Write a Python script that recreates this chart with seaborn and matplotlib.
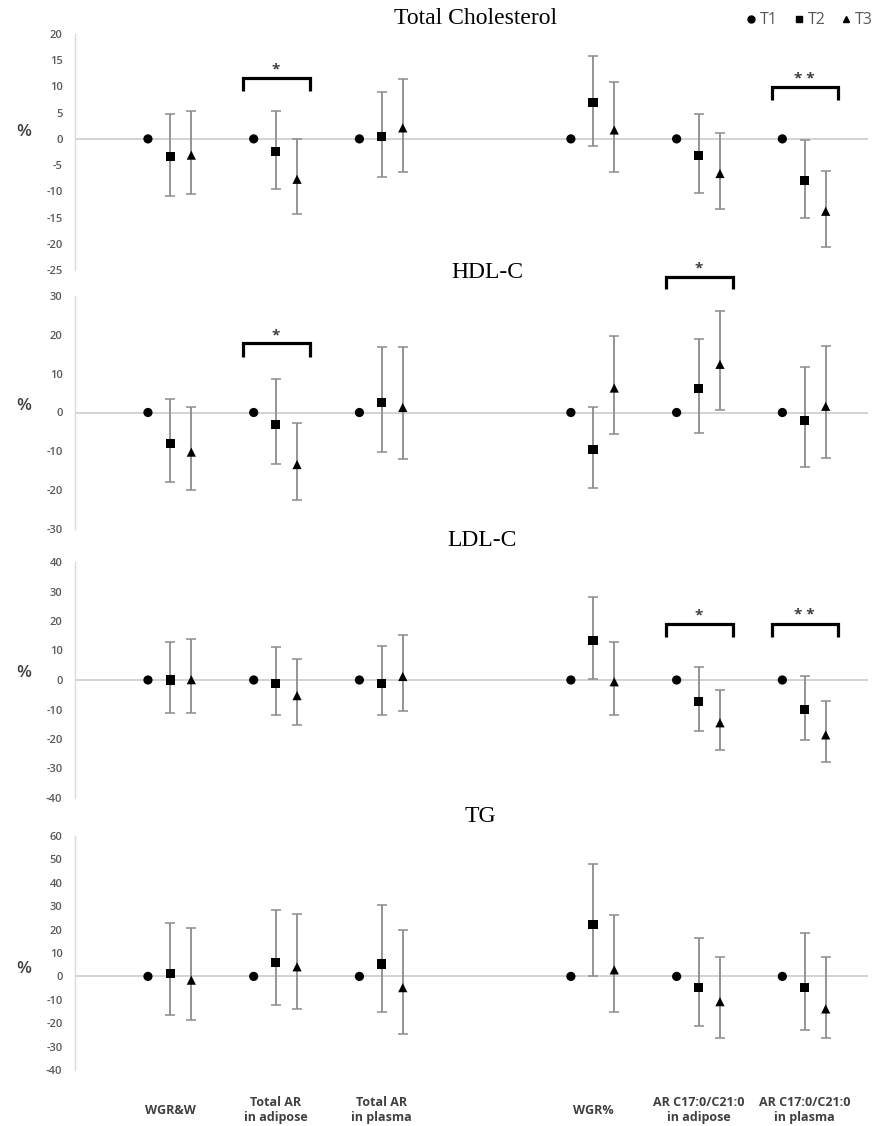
import numpy as np
import pandas as pd
import matplotlib.pyplot as plt
from matplotlib.lines import Line2D
import seaborn as sns

# categories on the x axis (slot 3 is left empty in the original)
categories = ["WGR&W", "Total AR\nin adipose", "Total AR\nin plasma",
              "WGR%", "AR C17:0/C21:0\nin adipose", "AR C17:0/C21:0\nin plasma"]
cat_pos = [0, 1, 2, 4, 5, 6]
groups = ["T1", "T2", "T3"]

# Total Cholesterol (% change vs T1)
tc_t2 = [-3.4, -2.4, 0.4, 7.0, -3.1, -7.9]
tc_t2_lo = [-10.8, -9.5, -7.3, -1.3, -10.3, -15.1]
tc_t2_hi = [4.7, 5.4, 8.9, 15.8, 4.7, -0.25]
tc_t3 = [-3.1, -7.7, 2.1, 1.7, -6.6, -13.8]
tc_t3_lo = [-10.5, -14.3, -6.4, -6.4, -13.3, -20.7]
tc_t3_hi = [5.4, 0.0, 11.5, 10.8, 1.2, -6.1]

# HDL-C
hdl_t2 = [-8.0, -3.0, 2.6, -9.5, 6.2, -2.0]
hdl_t2_lo = [-18.0, -13.3, -10.2, -19.4, -5.3, -14.1]
hdl_t2_hi = [3.5, 8.5, 16.8, 1.5, 19.0, 11.8]
hdl_t3 = [-10.2, -13.4, 1.3, 6.3, 12.4, 1.6]
hdl_t3_lo = [-20.0, -22.6, -12.1, -5.5, 0.6, -11.6]
hdl_t3_hi = [1.5, -2.7, 16.8, 19.8, 26.2, 17.0]

# LDL-C
ldl_t2 = [0.0, -1.1, -1.1, 13.3, -7.4, -9.9]
ldl_t2_lo = [-11.2, -12.0, -12.0, 0.3, -17.4, -20.2]
ldl_t2_hi = [12.8, 11.1, 11.4, 28.0, 4.5, 1.5]
ldl_t3 = [0.1, -5.3, 1.2, -0.6, -14.5, -18.6]
ldl_t3_lo = [-11.2, -15.4, -10.5, -12.0, -23.8, -27.7]
ldl_t3_hi = [13.9, 7.0, 15.2, 12.8, -3.3, -7.2]

# TG
tg_t2 = [1.4, 6.1, 5.3, 22.2, -4.7, -4.7]
tg_t2_lo = [-16.5, -12.4, -15.0, 0.3, -21.2, -22.9]
tg_t2_hi = [22.8, 28.4, 30.6, 47.9, 16.4, 18.6]
tg_t3 = [-1.6, 4.1, -4.8, 2.8, -10.8, -13.9]
tg_t3_lo = [-18.8, -14.1, -24.5, -15.2, -26.2, -26.3]
tg_t3_hi = [20.5, 26.5, 20.0, 26.3, 8.5, 8.1]

# significance brackets: (index into categories, bracket top, bracket foot, label)
tc_sig = [(1, 11.6, 9.2, "*"), (5, 9.8, 7.5, "* *")]
hdl_sig = [(1, 17.8, 14.3, "*"), (4, 34.9, 31.7, "*")]
ldl_sig = [(4, 19.0, 14.7, "*"), (5, 19.0, 14.7, "* *")]
tg_sig = []

sns.set_theme(style="white")
plt.rcParams["font.family"] = ["Open Sans", "DejaVu Sans"]
plt.rcParams["axes.unicode_minus"] = False

offsets = {"T1": -0.21, "T2": 0.0, "T3": 0.2}
markers = {"T1": "o", "T2": "s", "T3": "^"}
W, H = 881, 1126

panels = [
    ("Total Cholesterol", tc_t2, tc_t2_lo, tc_t2_hi, tc_t3, tc_t3_lo, tc_t3_hi,
     tc_sig, (-25, 20), 5, (34, 270), (476, 19)),
    ("HDL-C", hdl_t2, hdl_t2_lo, hdl_t2_hi, hdl_t3, hdl_t3_lo, hdl_t3_hi,
     hdl_sig, (-30, 30), 10, (296, 529), (487, 272)),
    ("LDL-C", ldl_t2, ldl_t2_lo, ldl_t2_hi, ldl_t3, ldl_t3_lo, ldl_t3_hi,
     ldl_sig, (-40, 40), 10, (562, 798), (482, 540)),
    ("TG", tg_t2, tg_t2_lo, tg_t2_hi, tg_t3, tg_t3_lo, tg_t3_hi,
     tg_sig, (-40, 60), 10, (836, 1070), (480, 816)),
]

fig = plt.figure(figsize=(W / 100, H / 100), dpi=100)
grey_err = "#8c8c8c"

for i, (title, t2, t2lo, t2hi, t3, t3lo, t3hi, sig, ylim, step, (ytop, ybot), tpos) in enumerate(panels):
    ax = fig.add_axes([75 / W, 1 - ybot / H, 793 / W, (ybot - ytop) / H])

    rows = []
    for c, p in zip(categories, cat_pos):
        rows.append(dict(cat=c, group="T1", x=p + offsets["T1"], y=0.0, lo=0.0, hi=0.0))
    for g, vals, lo, hi in [("T2", t2, t2lo, t2hi), ("T3", t3, t3lo, t3hi)]:
        for c, p, v, l, h in zip(categories, cat_pos, vals, lo, hi):
            rows.append(dict(cat=c, group=g, x=p + offsets[g], y=v, lo=l, hi=h))
    df = pd.DataFrame(rows)

    err = df[df.group != "T1"]
    ax.errorbar(err.x, err.y, yerr=[err.y - err.lo, err.hi - err.y], fmt="none",
                ecolor=grey_err, elinewidth=1.3, capsize=3.8, capthick=1.1, zorder=2)
    sns.scatterplot(data=df, x="x", y="y", style="group", markers=markers,
                    color="black", s=44, edgecolor="none", legend=False, ax=ax, zorder=3)

    ax.axhline(0, color="#c8c8c8", lw=1.1, zorder=1)

    for ci, top, foot, lab in sig:
        xc = cat_pos[ci]
        x0, x1 = xc - 0.31, xc + 0.32
        ax.plot([x0, x0, x1, x1], [foot, top, top, foot], color="black", lw=2.3,
                solid_joinstyle="miter", solid_capstyle="butt", clip_on=False, zorder=4)
        span = ylim[1] - ylim[0]
        ax.text(xc, top + span * 0.036, lab, ha="center", va="center",
                fontsize=11, fontweight="bold", color="#404040", clip_on=False)

    ax.set_xlim(-0.9, 6.6)
    ax.set_ylim(*ylim)
    ax.set_yticks(np.arange(ylim[0], ylim[1] + 1, step))
    ax.tick_params(axis="y", length=0, pad=9, labelsize=8, labelcolor="#595959")
    for lbl in ax.get_yticklabels():
        lbl.set_fontweight("semibold")
    ax.set_xlabel("")
    ax.set_ylabel("")
    for s in ["top", "right", "bottom"]:
        ax.spines[s].set_visible(False)
    ax.spines["left"].set_color("#d9d9d9")
    ax.spines["left"].set_linewidth(1.0)

    if i == len(panels) - 1:
        ax.set_xticks(cat_pos)
        ax.set_xticklabels(categories, fontweight="bold", fontsize=9, color="#404040",
                           va="center", linespacing=1.2)
        ax.tick_params(axis="x", length=0, pad=29)
    else:
        ax.set_xticks([])

    ax.annotate("%", xy=(-0.064, 0), xycoords=ax.get_yaxis_transform(),
                xytext=(0, 5), textcoords="offset points", ha="center", va="center",
                fontsize=12.5, fontweight="semibold", color="#404040")

    fig.text(tpos[0] / W, 1 - tpos[1] / H, title, family=["Liberation Serif"],
             fontsize=17, ha="center", va="center", color="black")

handles = [Line2D([], [], ls="none", marker=markers[g], color="black", markersize=5)
           for g in groups]
fig.legend(handles, groups, loc="upper right", bbox_to_anchor=(884 / W, 1 - 1 / H),
           ncol=3, frameon=False, handletextpad=0.15, columnspacing=0.9,
           handlelength=0.8, fontsize=11.5, labelcolor="#595959", borderpad=0.2)

fig.savefig("out.png", dpi=100)
